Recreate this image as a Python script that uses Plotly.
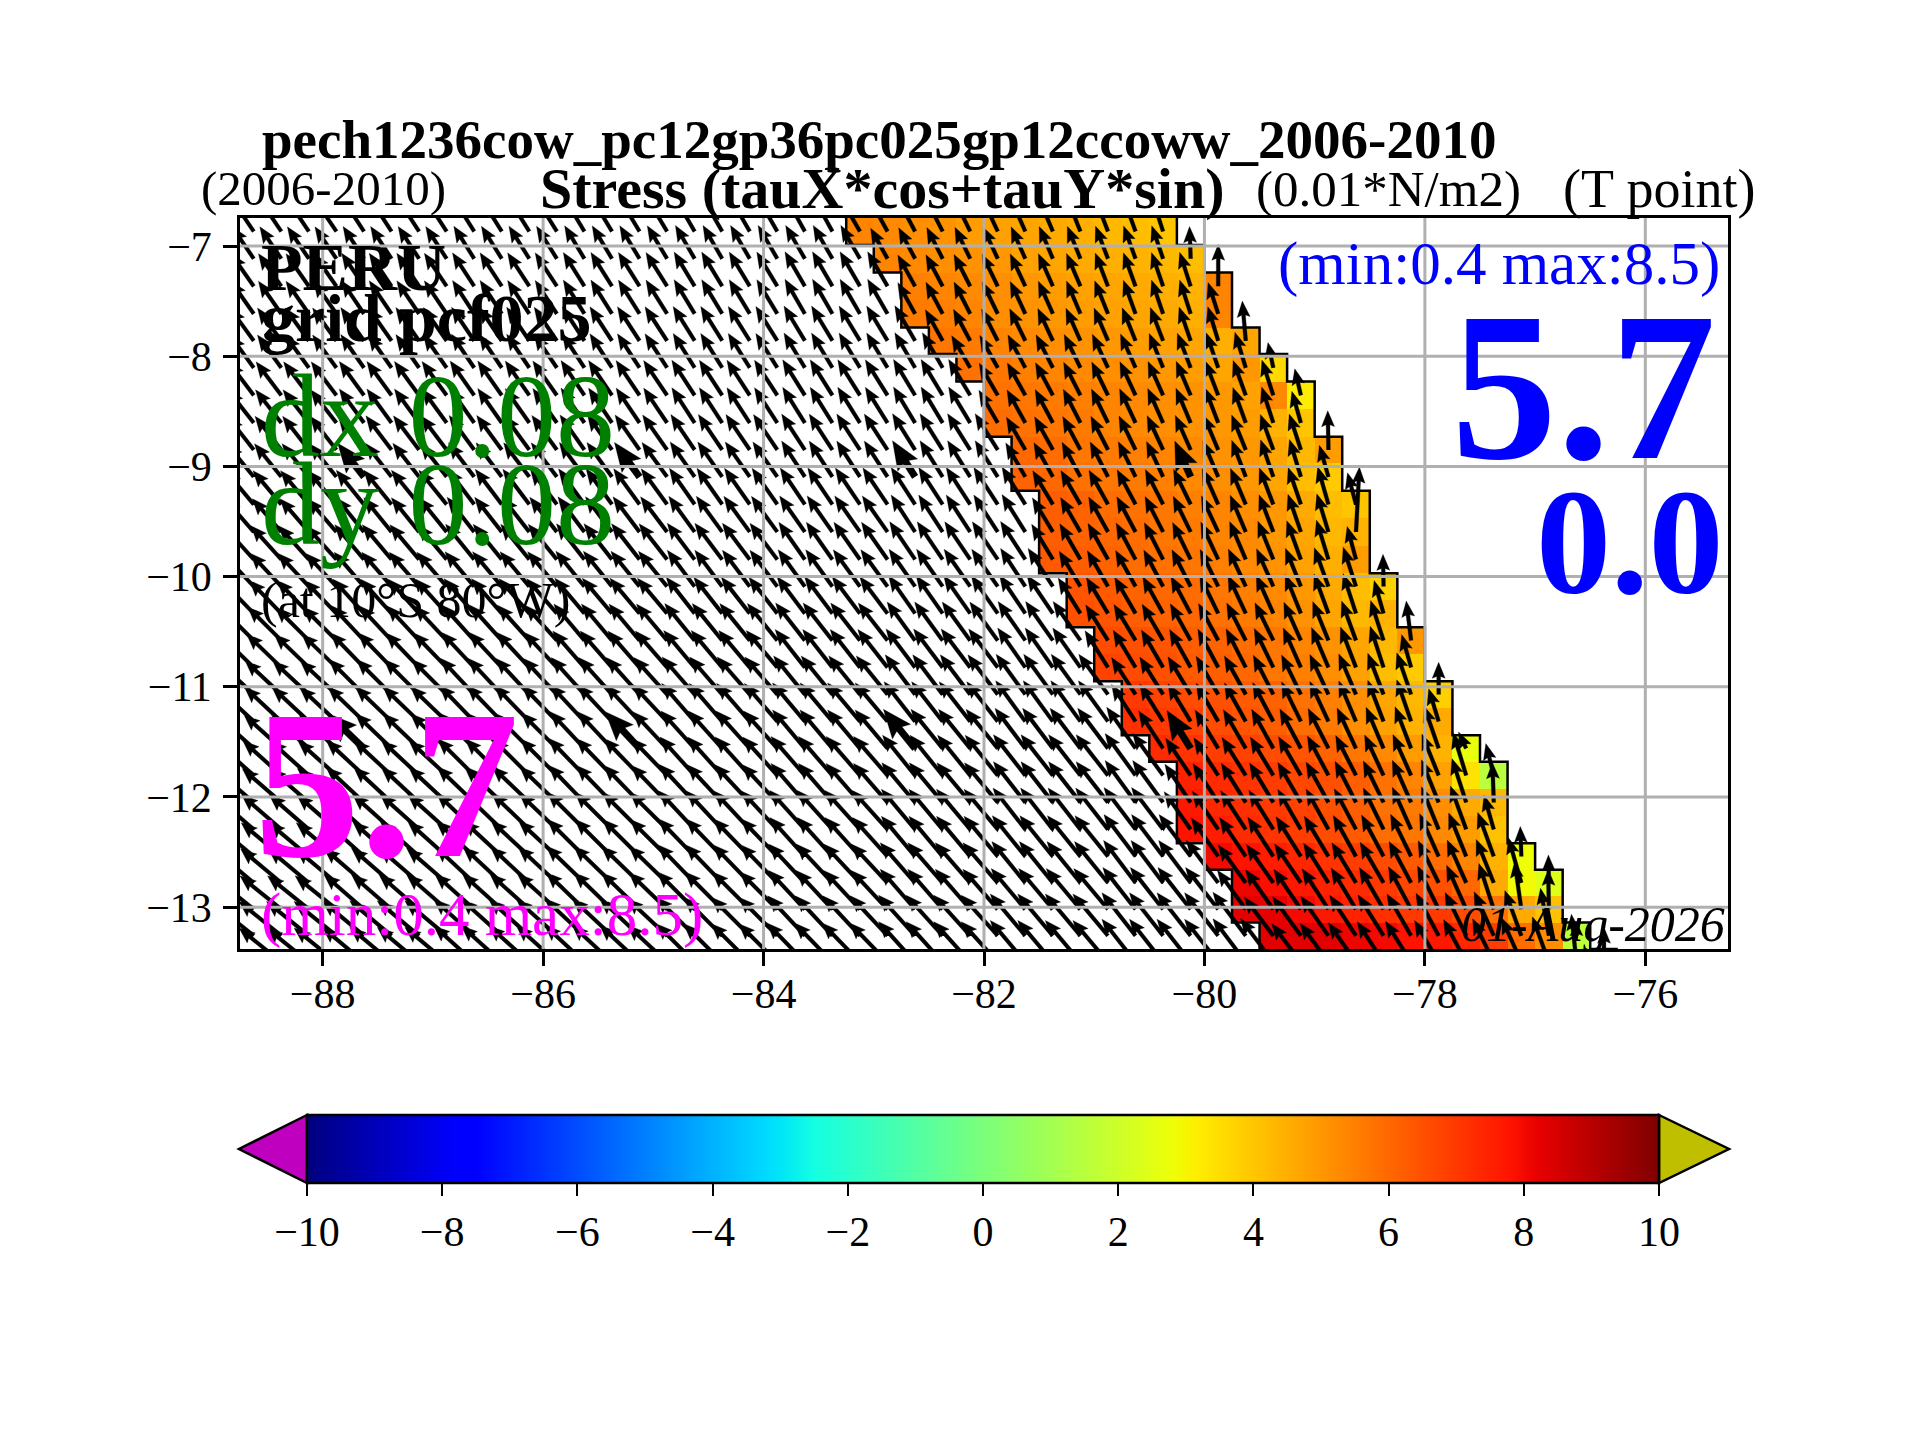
import numpy as np
import plotly.graph_objects as go

# grid of the zoom (degrees), cell edges
LON_EDGES = [-88.75, -88.5, -88.25, -88.0, -87.75, -87.5, -87.25, -87.0, -86.75, -86.5, -86.25,
             -86.0, -85.75, -85.5, -85.25, -85.0, -84.75, -84.5, -84.25, -84.0, -83.75, -83.5,
             -83.25, -83.0, -82.75, -82.5, -82.25, -82.0, -81.75, -81.5, -81.25, -81.0, -80.75,
             -80.5, -80.25, -80.0, -79.75, -79.5, -79.25, -79.0, -78.75, -78.5, -78.25, -78.0,
             -77.75, -77.5, -77.25, -77.0, -76.75, -76.5, -76.25, -76.0, -75.75, -75.5, -75.25]
LAT_EDGES = [-6.745, -6.99, -7.24, -7.49, -7.74, -7.98, -8.23, -8.48, -8.73, -8.97, -9.22, -9.47,
             -9.72, -9.97, -10.21, -10.46, -10.70, -10.95, -11.19, -11.44, -11.68, -11.93, -12.17,
             -12.42, -12.66, -12.90, -13.14, -13.38]
# last arrow row has its tails under the axis, only the heads show
EXTRA_ROW_LAT = -13.50
LON_TICKS = [-88, -86, -84, -82, -80, -78, -76]
LAT_TICKS = [-7, -8, -9, -10, -11, -12, -13]
CBAR_TICKS = [-10, -8, -6, -4, -2, 0, 2, 4, 6, 8, 10]

# first column of the coloured coastal band, one per row (north to south)
BAND_START = [22, 23, 24, 24, 25, 26, 27, 27, 28, 28, 29, 29, 29, 30, 30, 31, 31, 32, 32, 33, 34, 34,
              34, 35, 36, 36, 37]
EXTRA_ROW_START = 38
BAND_WIDTH = 12

# alongshore stress in the band, 0.01 N/m2
STRESS = [
    [5.4, 5.3, 5.2, 5.1, 4.9, 4.8, 4.7, 4.6, 4.5, 4.3, 4.2, 4.0],
    [5.4, 5.3, 5.2, 5.1, 5.0, 4.8, 4.7, 4.6, 4.5, 4.4, 4.3, 4.2],
    [5.5, 5.4, 5.3, 5.2, 5.0, 4.9, 4.8, 4.7, 4.6, 4.5, 4.4, 5.4],
    [5.6, 5.5, 5.4, 5.2, 5.1, 5.0, 4.9, 4.8, 4.7, 4.6, 4.5, 5.4],
    [5.7, 5.6, 5.4, 5.3, 5.2, 5.1, 5.0, 4.9, 4.8, 4.7, 4.5, 4.7],
    [5.8, 5.7, 5.5, 5.4, 5.3, 5.2, 5.1, 5.0, 4.9, 4.7, 5.0, 3.6],
    [5.8, 5.7, 5.6, 5.5, 5.4, 5.3, 5.2, 5.1, 5.0, 4.8, 5.3, 3.2],
    [5.9, 5.8, 5.7, 5.6, 5.4, 5.3, 5.2, 5.1, 5.0, 4.9, 4.4, 4.0],
    [6.0, 5.9, 5.7, 5.6, 5.5, 5.4, 5.3, 5.1, 5.0, 4.7, 4.3, 4.9],
    [6.1, 6.0, 5.8, 5.7, 5.6, 5.5, 5.3, 5.2, 5.0, 4.7, 4.2, 3.9],
    [6.2, 6.1, 5.9, 5.8, 5.7, 5.5, 5.4, 5.2, 5.0, 4.6, 4.2, 4.0],
    [6.2, 6.1, 6.0, 5.9, 5.7, 5.6, 5.4, 5.3, 5.0, 4.7, 4.3, 4.4],
    [6.3, 6.2, 6.1, 5.9, 5.8, 5.7, 5.5, 5.3, 5.1, 4.8, 4.5, 4.9],
    [6.4, 6.3, 6.1, 6.0, 5.9, 5.7, 5.5, 5.3, 5.0, 4.6, 4.2, 3.8],
    [6.5, 6.4, 6.2, 6.1, 6.0, 5.8, 5.6, 5.4, 5.1, 4.7, 4.3, 4.4],
    [6.6, 6.5, 6.4, 6.2, 6.1, 5.9, 5.7, 5.4, 5.1, 4.7, 4.3, 5.0],
    [6.8, 6.6, 6.5, 6.3, 6.2, 6.0, 5.7, 5.5, 5.2, 4.8, 4.2, 3.9],
    [7.0, 6.8, 6.6, 6.5, 6.3, 6.1, 5.8, 5.5, 5.2, 4.7, 4.3, 3.8],
    [7.2, 7.0, 6.8, 6.6, 6.4, 6.2, 5.9, 5.6, 5.2, 4.8, 4.4, 4.6],
    [7.3, 7.1, 6.9, 6.8, 6.6, 6.4, 6.1, 5.7, 5.3, 4.9, 4.4, 2.7],
    [7.5, 7.3, 7.1, 6.9, 6.7, 6.5, 6.2, 5.8, 5.4, 4.8, 3.4, 1.5],
    [7.7, 7.4, 7.2, 7.0, 6.8, 6.5, 6.2, 5.8, 5.6, 5.2, 4.6, 4.3],
    [7.8, 7.6, 7.3, 7.1, 6.9, 6.6, 6.3, 5.9, 5.7, 5.3, 4.9, 4.1],
    [8.0, 7.8, 7.6, 7.4, 7.1, 6.9, 6.6, 6.3, 5.9, 5.4, 4.4, 2.8],
    [8.1, 7.9, 7.7, 7.5, 7.3, 7.0, 6.7, 6.5, 6.0, 4.6, 2.9, 2.4],
    [8.3, 8.2, 8.0, 7.7, 7.5, 7.2, 7.0, 7.0, 6.6, 5.8, 4.6, 4.1],
    [8.3, 8.3, 8.3, 8.1, 8.0, 7.8, 7.7, 7.4, 6.9, 5.9, 5.2, 1.6],
]

# arrow tilt west of north (degrees) offshore, one value per degree of longitude from -88.75
WEST_TILT = [
    [34, 33, 32, 31, 30, 29, 29, 28, 28, 28],
    [34, 33, 32, 31, 30, 30, 29, 28, 28, 28],
    [35, 34, 33, 32, 31, 30, 29, 29, 28, 28],
    [35, 34, 33, 32, 31, 30, 30, 29, 28, 28],
    [36, 35, 34, 33, 32, 31, 30, 29, 29, 28],
    [36, 35, 34, 33, 32, 31, 30, 30, 29, 28],
    [37, 36, 35, 34, 33, 32, 31, 30, 29, 29],
    [38, 36, 35, 34, 33, 32, 31, 30, 30, 29],
    [38, 37, 36, 35, 34, 33, 32, 31, 30, 29],
    [39, 38, 37, 36, 35, 33, 32, 31, 30, 29],
    [40, 39, 37, 36, 35, 34, 33, 32, 31, 30],
    [41, 39, 38, 37, 36, 35, 33, 32, 31, 30],
    [42, 40, 39, 38, 37, 35, 34, 33, 32, 31],
    [43, 41, 40, 39, 37, 36, 35, 33, 32, 31],
    [44, 42, 41, 40, 38, 37, 35, 34, 33, 32],
    [45, 43, 42, 40, 39, 38, 36, 35, 33, 32],
    [46, 44, 43, 41, 40, 38, 37, 35, 34, 33],
    [47, 45, 43, 42, 41, 39, 37, 36, 34, 33],
    [47, 46, 44, 43, 41, 40, 38, 36, 35, 34],
    [48, 46, 45, 43, 42, 40, 39, 37, 35, 34],
    [48, 47, 45, 44, 42, 41, 39, 38, 36, 35],
    [49, 47, 46, 44, 43, 41, 40, 38, 36, 35],
    [49, 48, 46, 45, 43, 42, 40, 38, 37, 35],
    [50, 48, 47, 45, 44, 42, 40, 39, 37, 36],
    [50, 49, 47, 46, 44, 43, 41, 39, 37, 36],
    [51, 49, 48, 46, 45, 43, 41, 40, 38, 37],
    [51, 50, 48, 47, 45, 43, 42, 40, 38, 37],
    [51, 50, 48, 47, 45, 44, 42, 40, 38, 37],
]
# arrow tilt inside the band
BAND_TILT = [
    [30, 29, 28, 27, 26, 25, 24, 23, 22, 21, 20, 18],
    [29, 28, 27, 26, 25, 24, 23, 22, 21, 20, 19, 2],
    [29, 28, 27, 26, 25, 24, 23, 21, 20, 19, 18, 0],
    [29, 28, 27, 26, 25, 24, 23, 22, 20, 19, 18, 18],
    [29, 28, 27, 26, 25, 24, 23, 22, 21, 19, 17, 5],
    [30, 29, 28, 27, 26, 25, 24, 22, 21, 19, 17, 12],
    [30, 29, 28, 27, 26, 25, 24, 23, 21, 20, 18, 13],
    [30, 29, 28, 27, 26, 25, 24, 23, 21, 20, 18, 16],
    [30, 29, 28, 27, 26, 25, 24, 23, 22, 20, 18, 1],
    [30, 29, 28, 27, 26, 25, 24, 23, 21, 19, 17, 16],
    [31, 30, 29, 28, 27, 26, 24, 23, 21, 19, 16, 15],
    [31, 30, 29, 28, 27, 26, 25, 23, 21, 19, 17, -3],
    [31, 30, 29, 28, 27, 26, 25, 23, 22, 20, 17, 15],
    [31, 30, 29, 28, 27, 26, 25, 24, 22, 20, 18, 1],
    [32, 31, 30, 29, 28, 26, 25, 24, 22, 20, 18, 16],
    [32, 31, 30, 29, 28, 27, 26, 24, 22, 20, 18, 7],
    [32, 31, 30, 29, 28, 27, 26, 24, 23, 21, 18, 16],
    [33, 32, 31, 30, 29, 27, 26, 25, 23, 21, 19, 0],
    [33, 32, 31, 30, 29, 28, 26, 25, 23, 21, 19, 17],
    [33, 32, 31, 30, 29, 28, 27, 25, 23, 21, 19, 25],
    [34, 33, 32, 31, 30, 28, 27, 25, 24, 22, 17, 14],
    [34, 33, 32, 31, 30, 29, 27, 26, 24, 22, 18, 2],
    [35, 34, 33, 32, 30, 29, 28, 26, 24, 22, 20, 16],
    [35, 34, 33, 32, 31, 29, 28, 26, 24, 22, 20, 2],
    [36, 35, 34, 32, 31, 30, 28, 26, 24, 22, 16, 1],
    [36, 35, 34, 33, 31, 30, 28, 26, 24, 18, 8, 1],
    [37, 36, 35, 33, 32, 30, 28, 26, 24, 20, 10, 0],
    [37, 36, 35, 33, 32, 30, 28, 26, 24, 20, 6, 0],
]
# arrow speed per row, offshore / in the band / last cell at the coast
WEST_SPEED = [5.5, 5.5, 5.7, 5.7, 5.8, 5.8, 6.0, 6.0, 6.1, 6.1, 6.3, 6.3, 6.5, 6.5, 6.6, 6.8, 6.9, 7.1,
              7.2, 7.2, 7.4, 7.4, 7.5, 7.5, 7.6, 7.6, 7.8, 7.8]
BAND_SPEED = [5.0, 5.0, 5.1, 5.1, 5.1, 5.3, 5.3, 5.4, 5.4, 5.6, 5.6, 5.7, 5.9, 5.9, 6.0, 6.0, 6.2, 6.3,
              6.3, 6.4, 6.4, 6.6, 6.6, 6.7, 6.7, 6.9, 6.9, 6.9]
COAST_SPEED = [4.7, 4.6, 6.0, 4.7, 5.7, 3.7, 3.9, 4.7, 5.6, 4.7, 4.7, 9.3, 4.9, 4.6, 4.9, 5.7, 4.9, 4.6,
               4.9, 2.6, 4.7, 5.7, 5.1, 4.3, 4.0, 5.7, 2.0, 5.0]
# the cells whose arrows come out thick
BIG_ROWS = [9, 19]
BIG_COLS = [4, 14, 24, 34]

W, H = 1920, 1440
L, R, T, B = 240, 1728, 218, 949
DEG_PX = (R - L) / (LON_EDGES[-1] - LON_EDGES[0])

# same breakpoints as matplotlib jet
jet = [[0, "rgb(0,0,127)"], [0.11, "rgb(0,0,255)"], [0.125, "rgb(0,0,255)"], [0.34, "rgb(0,219,255)"],
       [0.35, "rgb(0,229,247)"], [0.375, "rgb(20,255,226)"], [0.64, "rgb(238,255,8)"], [0.65, "rgb(247,245,0)"],
       [0.66, "rgb(255,236,0)"], [0.89, "rgb(255,19,0)"], [0.91, "rgb(232,0,0)"], [1, "rgb(127,0,0)"]]

# lay the band out on the full grid
z = []
for row, start in enumerate(BAND_START):
    line = [None] * (len(LON_EDGES) - 1)
    line[start:start + BAND_WIDTH] = STRESS[row]
    z.append(line)


def arrow(x0, y0, tilt, speed, fat):
    # filled quiver polygon, tail on the cell centre
    length = speed * 7.0 / DEG_PX
    shaft = fat * 1.9 / DEG_PX
    barb = fat * 6.5 / DEG_PX
    head = min(fat * 16.0 / DEG_PX, length)
    a = np.radians(tilt)
    ux, uy = -np.sin(a), np.cos(a)
    px, py = uy, -ux
    pts = [(0, shaft), (length - 0.88 * head, shaft), (length - head, barb), (length, 0),
           (length - head, -barb), (length - 0.88 * head, -shaft), (0, -shaft)]
    return [x0 + s * ux + t * px for s, t in pts] + [None], [y0 + s * uy + t * py for s, t in pts] + [None]


row_lat = [(LAT_EDGES[i] + LAT_EDGES[i + 1]) / 2 for i in range(len(BAND_START))] + [EXTRA_ROW_LAT]
row_start = BAND_START + [EXTRA_ROW_START]
ax, ay = [], []
for row, start in enumerate(row_start):
    for col in range(start + BAND_WIDTH):
        xc = (LON_EDGES[col] + LON_EDGES[col + 1]) / 2
        if col < start:
            tilt, speed = WEST_TILT[row][col // 4], WEST_SPEED[row]
        else:
            tilt = BAND_TILT[row][col - start]
            speed = COAST_SPEED[row] if col == start + BAND_WIDTH - 1 else BAND_SPEED[row]
        fat = 1.8 if row in BIG_ROWS and col in BIG_COLS else 1.0
        xs, ys = arrow(xc, row_lat[row], tilt, speed, fat)
        ax += xs
        ay += ys

# stair outline of the band
west_x, west_y, east_x, east_y = [], [], [], []
for row, start in enumerate(BAND_START):
    west_x += [LON_EDGES[start]] * 2
    east_x += [LON_EDGES[start + BAND_WIDTH]] * 2
    west_y += [LAT_EDGES[row], LAT_EDGES[row + 1]]
    east_y += [LAT_EDGES[row], LAT_EDGES[row + 1]]
east_x.append(LON_EDGES[BAND_START[-1] + BAND_WIDTH + 1])
east_y.append(LAT_EDGES[-1])

grid_x, grid_y = [], []
for t in LON_TICKS:
    grid_x += [t, t, None]
    grid_y += [LAT_EDGES[0], LAT_EDGES[-1], None]
for t in LAT_TICKS:
    grid_x += [LON_EDGES[0], LON_EDGES[-1], None]
    grid_y += [t, t, None]

CBW, CBH = 1352, 68
CBL, CBT = 307, 1115


def fx(px):
    return (px - L) / (R - L)


def fy(py):
    return (B - py) / (B - T)


fig = go.Figure()
fig.add_trace(go.Heatmap(
    x=LON_EDGES, y=LAT_EDGES, z=z, zmin=-10, zmax=10, colorscale=jet, hoverongaps=False,
    colorbar=dict(
        orientation="h", lenmode="pixels", len=CBW, thicknessmode="pixels", thickness=CBH,
        x=fx(CBL), xanchor="left", y=fy(CBT), yanchor="top", xpad=0, ypad=0,
        outlinecolor="black", outlinewidth=2.5, ticks="outside", ticklen=12, tickwidth=2,
        tickcolor="black", tickmode="array", tickvals=CBAR_TICKS,
        tickfont=dict(family="Liberation Serif", size=42, color="black"),
    ),
))
fig.add_trace(go.Scatter(x=west_x, y=west_y, mode="lines", line=dict(color="black", width=2.5), hoverinfo="skip"))
fig.add_trace(go.Scatter(x=east_x, y=east_y, mode="lines", line=dict(color="black", width=2.5), hoverinfo="skip"))
fig.add_trace(go.Scatter(x=ax, y=ay, mode="lines", fill="toself", fillcolor="black",
                         line=dict(color="black", width=0.3), hoverinfo="skip"))
fig.add_trace(go.Scatter(x=grid_x, y=grid_y, mode="lines", line=dict(color="#b0b0b0", width=3), hoverinfo="skip"))

axis_style = dict(showgrid=False, zeroline=False, showline=True, linecolor="black", linewidth=2.5, mirror=True,
                  ticks="outside", ticklen=14, tickwidth=2.5, tickcolor="black",
                  tickfont=dict(family="Liberation Serif", size=42, color="black"))
fig.update_xaxes(range=[LON_EDGES[0], LON_EDGES[-1]], tickmode="array", tickvals=LON_TICKS,
                 ticklabelstandoff=-8, **axis_style)
fig.update_yaxes(range=[LAT_EDGES[-1], LAT_EDGES[0]], tickmode="array", tickvals=LAT_TICKS,
                 ticklabelstandoff=3, **axis_style)


def label(text, px, py, size, color="black", anchor="left", bold=False, italic=False):
    s = f"<b>{text}</b>" if bold else text
    s = f"<i>{s}</i>" if italic else s
    fig.add_annotation(text=s, x=fx(px), y=fy(py), xref="paper", yref="paper", xanchor=anchor, yanchor="middle",
                       showarrow=False, font=dict(family="Liberation Serif", size=size, color=color))


label("pech1236cow_pc12gp36pc025gp12ccoww_2006-2010", 260, 139, 55, bold=True)
label("(2006-2010)", 199, 189, 49)
label("Stress (tauX*cos+tauY*sin)", 538, 189, 58, bold=True)
label("(0.01*N/m2)", 1254, 189, 51)
label("(T point)", 1561, 189, 54)
label("PERU", 259, 267, 68, bold=True)
label("grid pcf025", 259, 318, 68, bold=True)
label("dx 0.08", 259, 416, 118, color="green")
label("dy 0.08", 259, 505, 118, color="green")
label("(at 10°S 80°W)", 259, 600, 50)
label("5.7", 252, 784, 212, color="magenta", bold=True)
label("(min:0.4 max:8.5)", 259, 915, 61, color="magenta")
label("(min:0.4 max:8.5)", 1722, 264, 61, color="blue", anchor="right")
label("5.7", 1718, 386, 212, color="blue", anchor="right", bold=True)
label("0.0", 1726, 542, 150, color="blue", anchor="right", bold=True)
label("01-Aug-2026", 1727, 924, 50, anchor="right", italic=True)

# extension triangles of the colour bar
tri = [([CBL, CBL - 68, CBL], "#bf00bf"), ([CBL + CBW, CBL + CBW + 70, CBL + CBW], "#bfbf00")]
for xs, col in tri:
    path = f"M {fx(xs[0])} {fy(CBT)} L {fx(xs[1])} {fy(CBT + CBH / 2)} L {fx(xs[2])} {fy(CBT + CBH)} Z"
    fig.add_shape(type="path", path=path, xref="paper", yref="paper", fillcolor=col,
                  line=dict(color="black", width=2.5))

fig.update_layout(width=W, height=H, showlegend=False, plot_bgcolor="white", paper_bgcolor="white",
                  margin=dict(l=L, r=W - R, t=T, b=H - B, autoexpand=False))
fig.write_html("out.html", config={"displayModeBar": False}, post_script="document.body.style.margin='0';")
